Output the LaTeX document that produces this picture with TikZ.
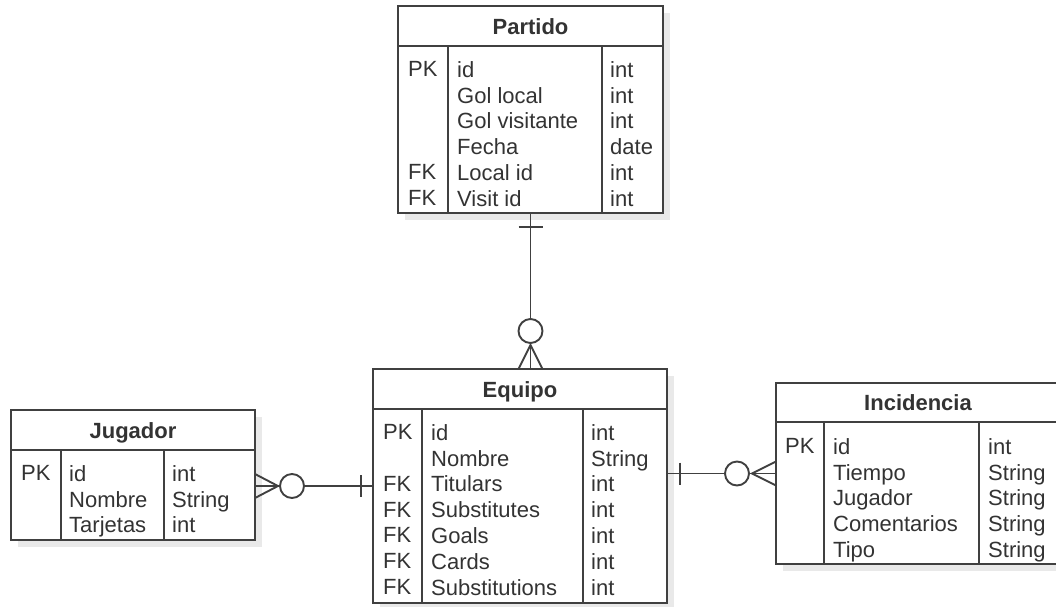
\documentclass[tikz,border=0pt]{standalone}
\usepackage{fontspec}
\setmainfont{Liberation Sans}
\usetikzlibrary{calc,shadows}
\definecolor{ink}{HTML}{404040}
\definecolor{txt}{HTML}{333333}
\definecolor{shade}{HTML}{E9E9E9}

\begin{document}
\begin{tikzpicture}[
    x=1pt, y=-1pt,
    line cap=butt, line join=miter,
    entity/.style={draw=ink, fill=white, line width=1.8pt, inner sep=0pt,
        outer sep=0pt, anchor=north west,
        drop shadow={shadow xshift=7pt, shadow yshift=-7pt, fill=shade, opacity=1}},
    divider/.style={ink, line width=1.8pt},
    link/.style={ink, line width=1.9pt},
    heading/.style={txt, anchor=base, inner sep=0pt, font=\fontsize{22}{26}\selectfont\bfseries},
    fieldcol/.style={txt, align=left, anchor=north west, inner sep=0pt,
        font=\fontsize{22}{25.9}\selectfont},
]
\clip (0,0) rectangle (1056,606);

% Partido table
\node[entity, minimum width=265pt, minimum height=207pt] (partido) at (398,6) {};
\draw[divider] ($(partido.north west)+(0,40)$) -- ($(partido.north east)+(0,40)$);
\draw[divider] ($(partido.north west)+(50,40)$) -- ($(partido.south west)+(50,0)$);
\draw[divider] ($(partido.north west)+(204,40)$) -- ($(partido.south west)+(204,0)$);
\node[heading] (partido-title) at ($(partido.north)+(0,28)$) {Partido};
\node[fieldcol] (partido-keys) at ($(partido.north west)+(10,55)$)
    {PK\\\mbox{}\\\mbox{}\\\mbox{}\\FK\\FK};
\node[fieldcol] (partido-names) at ($(partido.north west)+(59,55)$)
    {id\\Gol local\\Gol visitante\\Fecha\\Local id\\Visit id};
\node[fieldcol] (partido-types) at ($(partido.north west)+(212,55)$)
    {int\\int\\int\\date\\int\\int};

% Equipo table
\node[entity, minimum width=294pt, minimum height=234pt] (equipo) at (373,369) {};
\draw[divider] ($(equipo.north west)+(0,40)$) -- ($(equipo.north east)+(0,40)$);
\draw[divider] ($(equipo.north west)+(49,40)$) -- ($(equipo.south west)+(49,0)$);
\draw[divider] ($(equipo.north west)+(210,40)$) -- ($(equipo.south west)+(210,0)$);
\node[heading] (equipo-title) at ($(equipo.north)+(0,28)$) {Equipo};
\node[fieldcol] (equipo-keys) at ($(equipo.north west)+(10,55)$)
    {PK\\\mbox{}\\FK\\FK\\FK\\FK\\FK};
\node[fieldcol] (equipo-names) at ($(equipo.north west)+(58,55)$)
    {id\\Nombre\\Titulars\\Substitutes\\Goals\\Cards\\Substitutions};
\node[fieldcol] (equipo-types) at ($(equipo.north west)+(218,55)$)
    {int\\String\\int\\int\\int\\int\\int};

% Jugador table
\node[entity, minimum width=244pt, minimum height=130pt] (jugador) at (11,410) {};
\draw[divider] ($(jugador.north west)+(0,40)$) -- ($(jugador.north east)+(0,40)$);
\draw[divider] ($(jugador.north west)+(50,40)$) -- ($(jugador.south west)+(50,0)$);
\draw[divider] ($(jugador.north west)+(153,40)$) -- ($(jugador.south west)+(153,0)$);
\node[heading] (jugador-title) at ($(jugador.north)+(0,28)$) {Jugador};
\node[fieldcol] (jugador-keys) at ($(jugador.north west)+(10,55)$) {PK};
\node[fieldcol] (jugador-names) at ($(jugador.north west)+(58,55)$)
    {id\\Nombre\\Tarjetas};
\node[fieldcol] (jugador-types) at ($(jugador.north west)+(161,55)$)
    {int\\String\\int};

% Incidencia table (runs past the right margin)
\node[entity, minimum width=284pt, minimum height=181pt] (incidencia) at (776,383) {};
\draw[divider] ($(incidencia.north west)+(0,39)$) -- ($(incidencia.north east)+(0,39)$);
\draw[divider] ($(incidencia.north west)+(48,39)$) -- ($(incidencia.south west)+(48,0)$);
\draw[divider] ($(incidencia.north west)+(203,39)$) -- ($(incidencia.south west)+(203,0)$);
\node[heading] (incidencia-title) at ($(incidencia.north)+(0,27)$) {Incidencia};
\node[fieldcol] (incidencia-keys) at ($(incidencia.north west)+(9,55)$) {PK};
\node[fieldcol] (incidencia-names) at ($(incidencia.north west)+(57,55)$)
    {id\\Tiempo\\Jugador\\Comentarios\\Tipo};
\node[fieldcol] (incidencia-types) at ($(incidencia.north west)+(212,55)$)
    {int\\String\\String\\String\\String};

% Partido -- Equipo (one to zero-or-many)
\coordinate (eq-top) at (partido.south |- equipo.north);
\draw[link] (partido.south) -- (eq-top);
\draw[link] ($(partido.south)+(-12,14)$) -- ($(partido.south)+(12,14)$);
\draw[link] ($(eq-top)+(-12,0)$) -- ($(eq-top)+(0,-24)$) -- ($(eq-top)+(12,0)$);
\draw[link, fill=white] ($(eq-top)+(0,-38)$) circle[radius=12pt];

% Jugador -- Equipo
\coordinate (jug-end) at (equipo.west -| jugador.east);
\draw[link] (jug-end) -- (equipo.west);
\draw[link] ($(equipo.west)+(-12,-11)$) -- ($(equipo.west)+(-12,11)$);
\draw[link] ($(jug-end)+(0,-12)$) -- ($(jug-end)+(23,0)$) -- ($(jug-end)+(0,12)$);
\draw[link, fill=white] ($(jug-end)+(37,0)$) circle[radius=12pt];

% Equipo -- Incidencia
\coordinate (inc-end) at (incidencia.west -| equipo.east);
\draw[link] (inc-end) -- (incidencia.west);
\draw[link] ($(inc-end)+(13,-11)$) -- ($(inc-end)+(13,11)$);
\draw[link] ($(incidencia.west)+(0,-12)$) -- ($(incidencia.west)+(-24,0)$) -- ($(incidencia.west)+(0,12)$);
\draw[link, fill=white] ($(incidencia.west)+(-39,0)$) circle[radius=12pt];

\end{tikzpicture}
\end{document}
